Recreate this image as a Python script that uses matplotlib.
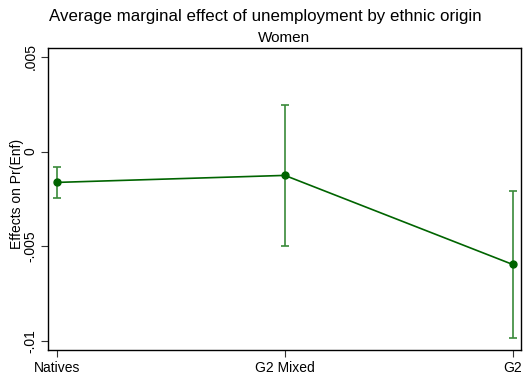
import matplotlib
matplotlib.use("Agg")
import matplotlib.pyplot as plt

# Average marginal effects with 95% confidence bounds
categories = ["Natives", "G2 Mixed", "G2"]
effects = [-0.00163, -0.00126, -0.00596]
ci_low = [-0.00245, -0.00496, -0.00986]
ci_high = [-0.00084, 0.00244, -0.00207]
yticks = [-0.01, -0.005, 0, 0.005]
ytick_labels = ["-.01", "-.005", "0", ".005"]

plt.rcParams["font.family"] = ["Liberation Sans", "DejaVu Sans"]

fig = plt.figure(figsize=(5.30, 3.78), dpi=100)
ax = fig.add_axes([48 / 530, 1 - 350 / 378, (521 - 48) / 530, (350 - 48) / 378])

x = list(range(len(categories)))
yerr = [[e - lo for e, lo in zip(effects, ci_low)],
        [hi - e for e, hi in zip(effects, ci_high)]]

ax.errorbar(x, effects, yerr=yerr, fmt="none", ecolor="#3a8a3a",
            elinewidth=1.2, capsize=3, capthick=1.2, zorder=2)
ax.plot(x, effects, color="#006400", linewidth=1.2, marker="o",
        markersize=5, zorder=3)

ax.set_xlim(-0.039, 2.036)
ax.set_ylim(-0.01047, 0.00546)
ax.set_xticks(x)
ax.set_xticklabels(categories, fontsize=10)
ax.set_yticks(yticks)
ax.set_yticklabels(ytick_labels, fontsize=10, rotation=90, va="center")
ax.tick_params(direction="out", length=5, width=0.8, color="#333333", pad=3)
ax.tick_params(axis="y", pad=2.5)
for s in ax.spines.values():
    s.set_linewidth(1.0)
    s.set_color("black")

ax.set_ylabel("Effects on Pr(Enf)", fontsize=10)
ax.yaxis.set_label_coords(-0.0507, 0.517)
ax.set_title("Women", fontsize=11, pad=4)
fig.suptitle("Average marginal effect of unemployment by ethnic origin",
             fontsize=12.2, x=0.5, y=0.975)

fig.savefig("out.png", dpi=100, facecolor="white")
